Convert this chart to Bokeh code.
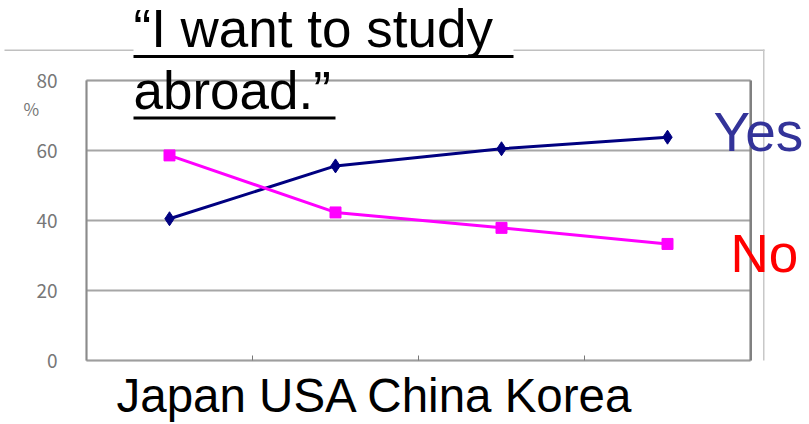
from bokeh.plotting import figure
from bokeh.models import Range1d, Label, BoxAnnotation, FixedTicker, LinearAxis
from bokeh.embed import file_html
from bokeh.resources import INLINE

# ---- data ----
countries = ["Japan", "USA", "China", "Korea"]
yes_vals = [40.5, 55.6, 60.5, 63.8]
no_vals = [58.6, 42.3, 37.9, 33.3]
y_ticks = [0, 20, 40, 60, 80]
title_lines = ["\u201cI want to study ", "abroad.\u201d"]
series_names = ["Yes", "No"]

x_pos = [i + 0.5 for i in range(len(countries))]
x_boundaries = [i + 1 for i in range(len(countries) - 1)]

W, H = 809, 424
FL, FR, FT, FB = 86, 750, 80, 360  # chart box pixel edges
XMAX, YMAX = len(countries), 80
SX = (FR - FL) / XMAX
SY = (FB - FT) / YMAX


def dx(px):
    return (px - FL) / SX


def dy(py):
    return (FB - py) / SY


p = figure(width=W, height=H, output_backend="svg", toolbar_location=None,
           x_range=Range1d(dx(0), dx(W)), y_range=Range1d(dy(H), dy(0)),
           x_axis_type=None, y_axis_type=None,
           min_border_left=0, min_border_right=0,
           min_border_top=0, min_border_bottom=0)
p.background_fill_color = "white"
p.border_fill_color = "white"
p.outline_line_color = None
p.xgrid.visible = False
p.ygrid.visible = False

# gridlines
p.segment(x0=[0] * len(y_ticks), x1=[XMAX] * len(y_ticks), y0=y_ticks, y1=y_ticks,
          line_color="#a6a6a6", line_width=2)
# chart box
p.add_layout(BoxAnnotation(left=0, right=XMAX, bottom=0, top=YMAX, fill_alpha=0,
                           line_color="#8c8c8c", line_width=2))
p.add_layout(BoxAnnotation(left=dx(749), right=dx(751.5), bottom=0, top=YMAX,
                           fill_color="#808080", fill_alpha=1, line_color=None))

# axes placed at fixed locations
yax = LinearAxis(fixed_location=0, bounds=(0, YMAX), ticker=FixedTicker(ticks=y_ticks))
yax.major_tick_out = 0
yax.major_tick_in = 0
yax.minor_tick_out = 0
yax.minor_tick_in = 0
yax.major_label_standoff = 29
yax.major_label_text_font = "Noto Sans CJK JP"
yax.major_label_text_font_size = "19px"
yax.major_label_text_color = "#777777"
yax.axis_line_color = "#8c8c8c"
yax.axis_line_width = 2
p.add_layout(yax, "left")

# x axis: only tick marks at category boundaries
p.segment(x0=x_boundaries, x1=x_boundaries, y0=[0] * len(x_boundaries),
          y1=[5 / SY] * len(x_boundaries), line_color="#777777", line_width=1)

# series
p.line(x_pos, yes_vals, line_color="#000080", line_width=3)
p.scatter(x_pos, yes_vals, marker="diamond", size=14, fill_color="#000080",
          line_color="#000080")
p.line(x_pos, no_vals, line_color="#ff00ff", line_width=3)
p.scatter(x_pos, no_vals, marker="square", size=11, fill_color="#ff00ff",
          line_color="#ff00ff")

# surrounding frame lines (top and right)
for l, r in [(4, 133), (513, 764)]:
    p.add_layout(BoxAnnotation(left=dx(l), right=dx(r), bottom=dy(50.5), top=dy(49),
                               fill_color="#c0c0c0", fill_alpha=1, line_color=None))
p.add_layout(BoxAnnotation(left=dx(762.5), right=dx(764), bottom=dy(360), top=dy(49),
                           fill_color="#c8c8c8", fill_alpha=1, line_color=None))


def text_at(px, baseline_py, txt, size, color, font="Liberation Sans"):
    corr = 0.38 * size
    p.add_layout(Label(x=dx(px), y=dy(baseline_py - corr), text=txt, text_font=font,
                       text_font_size=f"{size}px", text_color=color,
                       text_baseline="alphabetic"))


# title
text_at(133, 48, title_lines[0], 53, "black")
text_at(133, 110, title_lines[1], 53, "black")
p.add_layout(BoxAnnotation(left=dx(133), right=dx(513), bottom=dy(57.5), top=dy(54.5),
                           fill_color="black", fill_alpha=1, line_color=None))
p.add_layout(BoxAnnotation(left=dx(133), right=dx(335), bottom=dy(119), top=dy(116),
                           fill_color="black", fill_alpha=1, line_color=None))

# percent unit
text_at(23, 114, "%", 17, "#777777", font="Noto Sans CJK JP")

# category text
text_at(116, 413, " ".join(countries), 47.5, "black")

# series labels
text_at(713, 152, series_names[0], 55, "#333399")
text_at(730, 273, series_names[1], 53, "#ff0000")

open("out.html", "w").write(file_html(p, INLINE))
